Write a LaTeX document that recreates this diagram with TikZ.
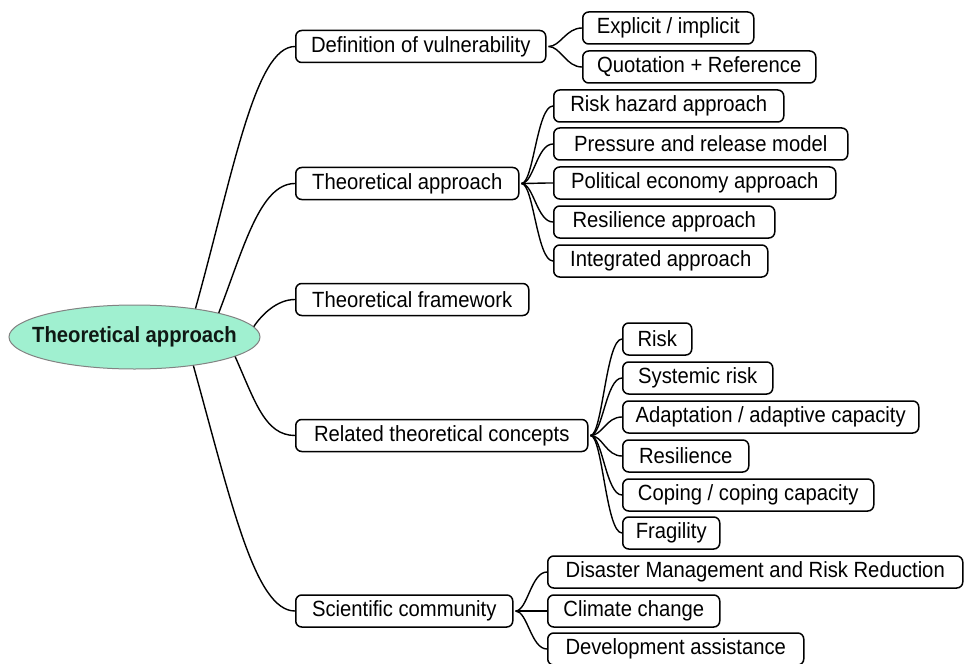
\documentclass[tikz,border=0pt]{standalone}
\usepackage{fontspec}
\setmainfont[FakeStretch=0.92]{Liberation Sans}
\usetikzlibrary{shapes.geometric,calc}
\definecolor{mint}{RGB}{160,240,208}
\definecolor{rimgray}{RGB}{130,130,130}
\definecolor{rootink}{RGB}{15,25,20}
\begin{document}
\begin{tikzpicture}[x=1pt,y=-1pt,
  box/.style={draw, line width=1.5pt, rounded corners=6pt, minimum height=32pt,
    anchor=west, inner xsep=0pt, inner ysep=0pt, align=center,
    font=\fontsize{22}{24}\selectfont},
  rootnode/.style={ellipse, draw=rimgray, line width=1pt, fill=mint,
    minimum width=251pt, minimum height=64pt, inner xsep=-14pt, inner ysep=0pt,
    text=rootink, font=\fontsize{22}{24}\selectfont\bfseries},
  link/.style={line width=1.4pt}]
\useasboundingbox (0,0) rectangle (965,663);

\node[rootnode] (root) at (134.5,337) {Theoretical approach};

% level 1
\node[box, minimum width=250pt] (d1) at (295,46.5) {Definition of vulnerability};
\node[box, minimum width=223pt] (t1) at (295,183.5) {Theoretical approach};
\node[box, minimum width=233pt] (f1) at (295,299.5) {Theoretical framework};
\node[box, minimum width=292pt] (r1) at (295,435.5) {Related theoretical concepts};
\node[box, minimum width=217pt] (s1) at (295,611) {Scientific community};

% level 2
\node[box, minimum width=171pt] (d11) at (582,28) {Explicit / implicit};
\node[box, minimum width=233pt] (d12) at (582,67) {Quotation + Reference};

\node[box, minimum width=230pt] (t11) at (553,106) {Risk hazard approach};
\node[box, minimum width=294pt] (t12) at (553,144) {Pressure and release model};
\node[box, minimum width=282pt] (t13) at (553,183) {Political economy approach};
\node[box, minimum width=221pt] (t14) at (553,222) {Resilience approach};
\node[box, minimum width=214pt] (t15) at (553,261) {Integrated approach};

\node[box, minimum width=69pt] (r11) at (622,339) {Risk};
\node[box, minimum width=150pt] (r12) at (622,378) {Systemic risk};
\node[box, minimum width=296pt] (r13) at (622,417) {Adaptation / adaptive capacity};
\node[box, minimum width=126pt] (r14) at (622,456) {Resilience};
\node[box, minimum width=251pt] (r15) at (622,495) {Coping / coping capacity};
\node[box, minimum width=97pt] (r16) at (622,533) {Fragility};

\node[box, minimum width=415pt] (s11) at (547,572) {Disaster Management and Risk Reduction};
\node[box, minimum width=172pt] (s12) at (547,611) {Climate change};
\node[box, minimum width=256pt] (s13) at (547,649) {Development assistance};

% root connectors
\draw[link] (root.25) .. controls +(38,-137) and +(-40,0) .. (d1.west);
\draw[link] (root.16) .. controls +(25,-65) and +(-35,0) .. (t1.west);
\draw[link] (root.5) .. controls +(8,-12) and +(-18,0) .. (f1.west);
\draw[link] (root.-11) .. controls +(20,45) and +(-30,0) .. (r1.west);
\draw[link] (root.-26) .. controls +(38,137) and +(-40,0) .. (s1.west);

% braces
\foreach \p/\c in {d1/d11,d1/d12,t1/t11,t1/t12,t1/t13,t1/t14,t1/t15,
                   r1/r11,r1/r12,r1/r13,r1/r14,r1/r15,r1/r16,
                   s1/s11,s1/s12,s1/s13}{
  \draw[link] ([xshift=2pt]\p.east) .. controls +(12,0) and +(-16,0) .. (\c.west);
}
\end{tikzpicture}
\end{document}
